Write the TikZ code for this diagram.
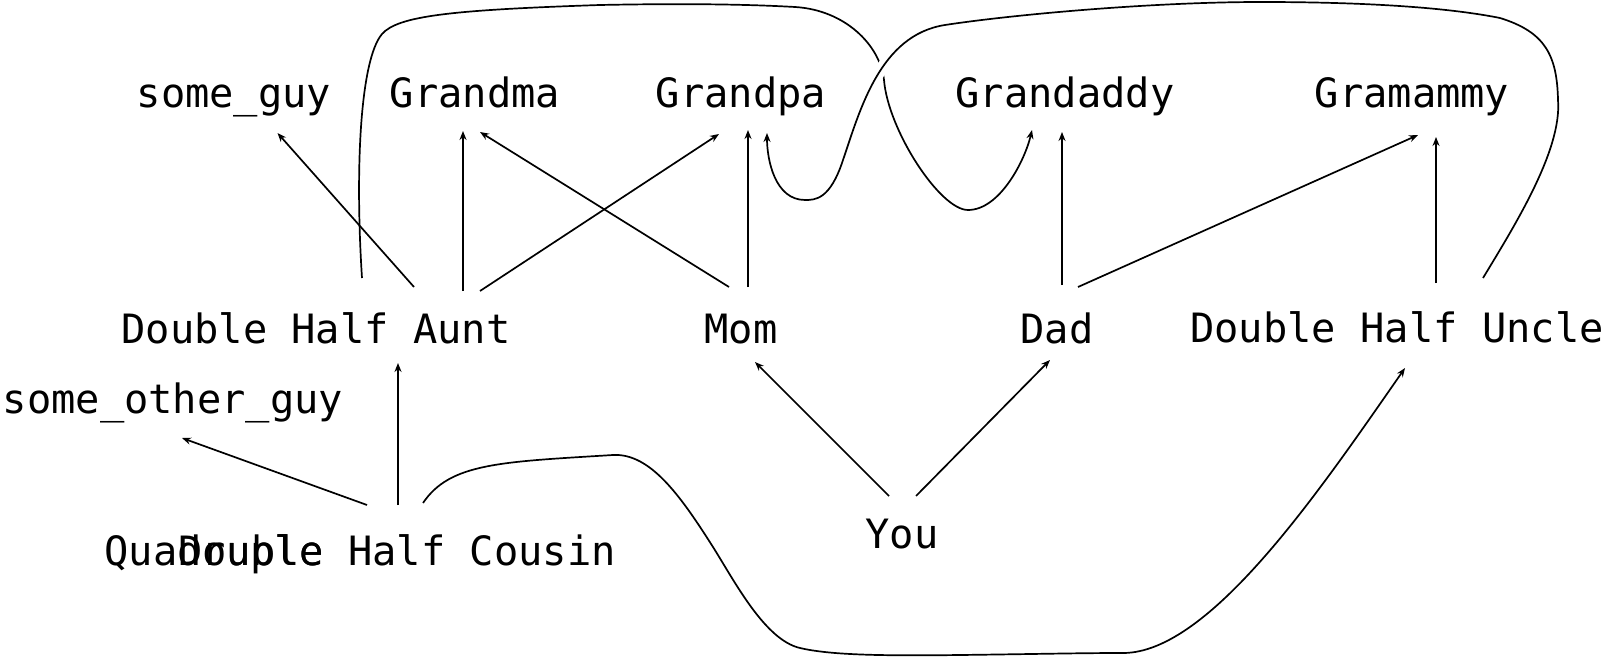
\documentclass[tikz,border=0pt]{standalone}
\usepackage{fontspec}
\setmonofont{DejaVu Sans Mono}
\usetikzlibrary{arrows.meta}
\begin{document}
\begin{tikzpicture}[x=1pt,y=-1pt,
        person/.style={inner sep=0pt,anchor=base,font=\ttfamily\fontsize{40.4}{48}\selectfont},
        link/.style={line width=1.7pt,-{Stealth[length=9pt,width=7pt]}},
        bridge/.style={preaction={draw=white,line width=12pt,-}}]
        \useasboundingbox (0,0) rectangle (1602,660);
        \node[person] (someguy) at (234,108) {some\_guy};
        \node[person] (grandma) at (475,108) {Grandma};
        \node[person] (grandpa) at (741,108) {Grandpa};
        \node[person] (grandaddy) at (1065,108) {Grandaddy};
        \node[person] (gramammy) at (1412,108) {Gramammy};
        \node[person] (aunt) at (316,343) {Double Half Aunt};
        \node[person] (mom) at (741,343) {Mom};
        \node[person] (dad) at (1057,343) {Dad};
        \node[person] (uncle) at (1397,342) {Double Half Uncle};
        \node[person] (otherguy) at (173,413) {some\_other\_guy};
        \node[person] (you) at (902,548) {You};
        \node[person] (quad) at (214,565) {Quadruple};
        \node[person] (cousin) at (397,565) {Double Half Cousin};
        \draw[link] ([shift={(98,-56)}]aunt.base) -- ([shift={(43.5,25)}]someguy.base);
        \draw[link] ([shift={(147,-52)}]aunt.base) -- ([shift={(-12,23)}]grandma.base);
        \draw[link] ([shift={(164,-52)}]aunt.base) -- ([shift={(-22,26)}]grandpa.base);
        \draw[link] ([shift={(-12,-56)}]mom.base) -- ([shift={(5,24)}]grandma.base);
        \draw[link] ([shift={(7,-56)}]mom.base) -- ([shift={(7,22)}]grandpa.base);
        \draw[link] ([shift={(5,-58)}]dad.base) -- ([shift={(-3,24)}]grandaddy.base);
        \draw[link] ([shift={(21,-56)}]dad.base) -- ([shift={(6,27)}]gramammy.base);
        \draw[link] ([shift={(39,-59)}]uncle.base) -- ([shift={(24,29)}]gramammy.base);
        \draw[link] ([shift={(-13,-52)}]you.base) -- ([shift={(14,19)}]mom.base);
        \draw[link] ([shift={(14,-52)}]you.base) -- ([shift={(-7,17)}]dad.base);
        \draw[link] ([shift={(-30,-60)}]cousin.base) -- ([shift={(9,25)}]otherguy.base);
        \draw[link] ([shift={(1,-60)}]cousin.base) -- ([shift={(82,20)}]aunt.base);
        \draw[link] ([shift={(26,-62)}]cousin.base) .. controls (450,463) and (500,462) .. (613,455)
                .. controls (650,453) and (680,495) .. (713,547)
                .. controls (735,582) and (765,640) .. (800,648)
                .. controls (830,655) and (880,656) .. (960,655)
                .. controls (1040,654) and (1080,653) .. (1123,653)
                .. controls (1210,653) and (1320,490) .. ([shift={(8,26)}]uncle.base);
        \draw[link] ([shift={(46,-65)}]aunt.base) .. controls (355,170) and (360,60) .. (382,34)
                .. controls (398,16) and (450,10) .. (600,5)
                .. controls (700,3) and (760,5) .. (795,7)
                .. controls (845,10) and (880,45) .. (884,80)
                .. controls (888,130) and (940,210) .. (968,210)
                .. controls (1000,210) and (1025,160) .. ([shift={(-33,22)}]grandaddy.base);
        \draw[link,bridge] ([shift={(86,-64)}]uncle.base) .. controls (1515,225) and (1562,150) .. (1558,100)
                .. controls (1557,55) and (1545,32) .. (1500,18)
                .. controls (1440,6) and (1350,2) .. (1261,2)
                .. controls (1150,2) and (1010,15) .. (945,25)
                .. controls (880,35) and (860,110) .. (843,160)
                .. controls (830,200) and (815,200) .. (805,200)
                .. controls (775,200) and (767,160) .. ([shift={(26,25)}]grandpa.base);
\end{tikzpicture}
\end{document}
